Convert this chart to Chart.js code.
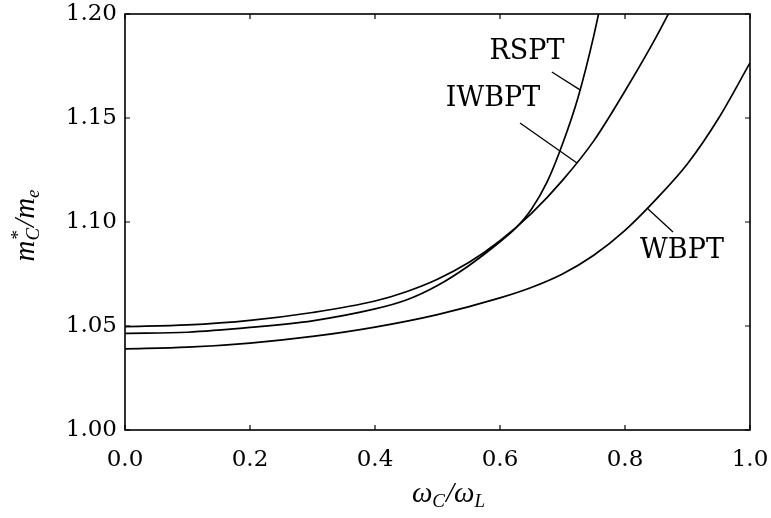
<!DOCTYPE html>
<html>
<head>
<meta charset="utf-8">
<script src="https://cdn.jsdelivr.net/npm/chart.js@4.4.1/dist/chart.umd.min.js"></script>
<style>
  html, body { margin: 0; padding: 0; background: #ffffff; }
  #wrap { width: 771px; height: 518px; position: relative; }
</style>
</head>
<body>
<div id="wrap"><canvas id="c" width="771" height="518"></canvas></div>
<script>
// ---- data ----
const rsptX  = [0, 0.1, 0.2, 0.3, 0.4, 0.45, 0.5, 0.55, 0.6, 0.625, 0.65, 0.675, 0.7, 0.725, 0.75, 0.775];
const rsptY  = [1.0465, 1.0470, 1.0493, 1.0525, 1.0582, 1.0625, 1.0695, 1.0790, 1.0905, 1.0970, 1.1060, 1.1190, 1.1375, 1.1600, 1.1895, 1.2250];

const iwbptX = [0, 0.1, 0.2, 0.3, 0.4, 0.45, 0.5, 0.55, 0.6, 0.65, 0.7, 0.75, 0.8, 0.85, 0.9];
const iwbptY = [1.0497, 1.0505, 1.0527, 1.0565, 1.0620, 1.0665, 1.0725, 1.0805, 1.0910, 1.1040, 1.1200, 1.1390, 1.1630, 1.1890, 1.2180];

const wbptX  = [0, 0.1, 0.2, 0.3, 0.4, 0.5, 0.6, 0.65, 0.7, 0.75, 0.8, 0.85, 0.9, 0.95, 1.0];
const wbptY  = [1.0390, 1.0398, 1.0418, 1.0450, 1.0495, 1.0555, 1.0635, 1.0685, 1.0750, 1.0840, 1.0960, 1.1110, 1.1280, 1.1500, 1.1765];

const xTickValues = [0.0, 0.2, 0.4, 0.6, 0.8, 1.0];
const xTickLabels = ["0.0", "0.2", "0.4", "0.6", "0.8", "1.0"];
const yTickValues = [1.00, 1.05, 1.10, 1.15, 1.20];
const yTickLabels = ["1.00", "1.05", "1.10", "1.15", "1.20"];

const seriesNames = ["RSPT", "IWBPT", "WBPT"];

// label annotations (text anchor + leader line, in data units)
const curveLabels = [
  { text: "RSPT",  tx: 0.6432, ty: 1.1817, from: [0.683, 1.1721], to: [0.728, 1.1635] },
  { text: "IWBPT", tx: 0.5888, ty: 1.1591, from: [0.632, 1.1476], to: [0.7232, 1.1284] },
  { text: "WBPT",  tx: 0.8912, ty: 1.0860, from: [0.8352, 1.1067], to: [0.8768, 1.0952] }
];

function pts(xs, ys) { return xs.map((x, i) => ({ x: x, y: ys[i] })); }

const SERIF = '"DejaVu Serif", "Liberation Serif", serif';

const framePlugin = {
  id: 'frameAndText',
  afterDraw(chart) {
    const ctx = chart.ctx;
    const a = chart.chartArea;
    const xs = chart.scales.x, ys = chart.scales.y;
    ctx.save();
    // frame
    ctx.strokeStyle = '#000';
    ctx.lineWidth = 1.6;
    ctx.strokeRect(a.left, a.top, a.right - a.left, a.bottom - a.top);
    // inward ticks
    ctx.lineWidth = 1.2;
    ctx.beginPath();
    xTickValues.forEach(v => {
      const px = xs.getPixelForValue(v);
      ctx.moveTo(px, a.bottom); ctx.lineTo(px, a.bottom - 5);
      ctx.moveTo(px, a.top); ctx.lineTo(px, a.top + 5);
    });
    yTickValues.forEach(v => {
      const py = ys.getPixelForValue(v);
      ctx.moveTo(a.left, py); ctx.lineTo(a.left + 5, py);
      ctx.moveTo(a.right, py); ctx.lineTo(a.right - 5, py);
    });
    ctx.stroke();

    // curve labels with leader lines
    ctx.fillStyle = '#000';
    ctx.font = '27px ' + SERIF;
    ctx.textAlign = 'center';
    ctx.textBaseline = 'middle';
    ctx.lineWidth = 1.3;
    curveLabels.forEach(l => {
      ctx.fillText(l.text, xs.getPixelForValue(l.tx), ys.getPixelForValue(l.ty));
      ctx.beginPath();
      ctx.moveTo(xs.getPixelForValue(l.from[0]), ys.getPixelForValue(l.from[1]));
      ctx.lineTo(xs.getPixelForValue(l.to[0]), ys.getPixelForValue(l.to[1]));
      ctx.stroke();
    });

    // axis titles with sub/superscripts
    const big = 'italic 29px "Liberation Serif", "DejaVu Serif", serif';
    const small = 'italic 19px "Liberation Serif", "DejaVu Serif", serif';
    function drawRich(parts, cx, cy) {
      ctx.textAlign = 'left';
      ctx.textBaseline = 'alphabetic';
      let w = 0;
      const widths = parts.map(p => {
        if (p[1] === 'n') { ctx.font = big; return ctx.measureText(p[0]).width; }
        if (p[1] === 'subsup') { ctx.font = small; return Math.max(ctx.measureText(p[0]).width, ctx.measureText(p[2]).width) + 1; }
        ctx.font = small; return ctx.measureText(p[0]).width + 1;
      });
      widths.forEach(x => w += x);
      let x = cx - w / 2;
      const base = cy + 7;
      parts.forEach((p, i) => {
        if (p[1] === 'n') { ctx.font = big; ctx.fillText(p[0], x, base); }
        else if (p[1] === 'sub') { ctx.font = small; ctx.fillText(p[0], x, base + 5); }
        else if (p[1] === 'subsup') {
          ctx.font = small;
          ctx.fillText(p[2], x, base - 10);
          ctx.fillText(p[0], x, base + 5);
        }
        x += widths[i];
      });
    }
    drawRich([["ω", 'n'], ["C", 'sub'], ["/", 'n'], ["ω", 'n'], ["L", 'sub']], 449, 495);
    ctx.save();
    ctx.translate(27, 225);
    ctx.rotate(-Math.PI / 2);
    drawRich([["m", 'n'], ["C", 'subsup', "*"], ["/", 'n'], ["m", 'n'], ["e", 'sub']], 0, 0);
    ctx.restore();
    ctx.restore();
  }
};

const lineStyle = { borderColor: '#000', borderWidth: 1.7, pointRadius: 0, showLine: true, fill: false, cubicInterpolationMode: 'monotone' };

new Chart(document.getElementById('c'), {
  type: 'scatter',
  data: {
    datasets: [
      Object.assign({ label: seriesNames[0], data: pts(rsptX, rsptY) }, lineStyle),
      Object.assign({ label: seriesNames[1], data: pts(iwbptX, iwbptY) }, lineStyle),
      Object.assign({ label: seriesNames[2], data: pts(wbptX, wbptY) }, lineStyle)
    ]
  },
  options: {
    responsive: false,
    animation: false,
    layout: { padding: { left: 0, right: 21, top: 14, bottom: 0 } },
    plugins: { legend: { display: false }, tooltip: { enabled: false } },
    scales: {
      x: {
        type: 'linear', min: 0, max: 1,
        grid: { display: false, drawTicks: false },
        border: { display: false },
        afterBuildTicks: s => { s.ticks = xTickValues.map(v => ({ value: v })); },
        afterFit: s => { s.height = 88; s.paddingLeft = 0; s.paddingRight = 0; },
        ticks: {
          padding: 16,
          color: '#000',
          font: { family: SERIF, size: 23 },
          callback: (v) => { const i = xTickValues.indexOf(v); return i >= 0 ? xTickLabels[i] : ''; }
        }
      },
      y: {
        type: 'linear', min: 1.0, max: 1.2,
        grid: { display: false, drawTicks: false },
        border: { display: false },
        afterBuildTicks: s => { s.ticks = yTickValues.map(v => ({ value: v })); },
        afterFit: s => { s.width = 125; s.paddingTop = 0; s.paddingBottom = 0; },
        ticks: {
          padding: 8,
          color: '#000',
          font: { family: SERIF, size: 23 },
          callback: (v) => { const i = yTickValues.findIndex(t => Math.abs(t - v) < 1e-9); return i >= 0 ? yTickLabels[i] : ''; }
        }
      }
    }
  },
  plugins: [framePlugin]
});
</script>
</body>
</html>
